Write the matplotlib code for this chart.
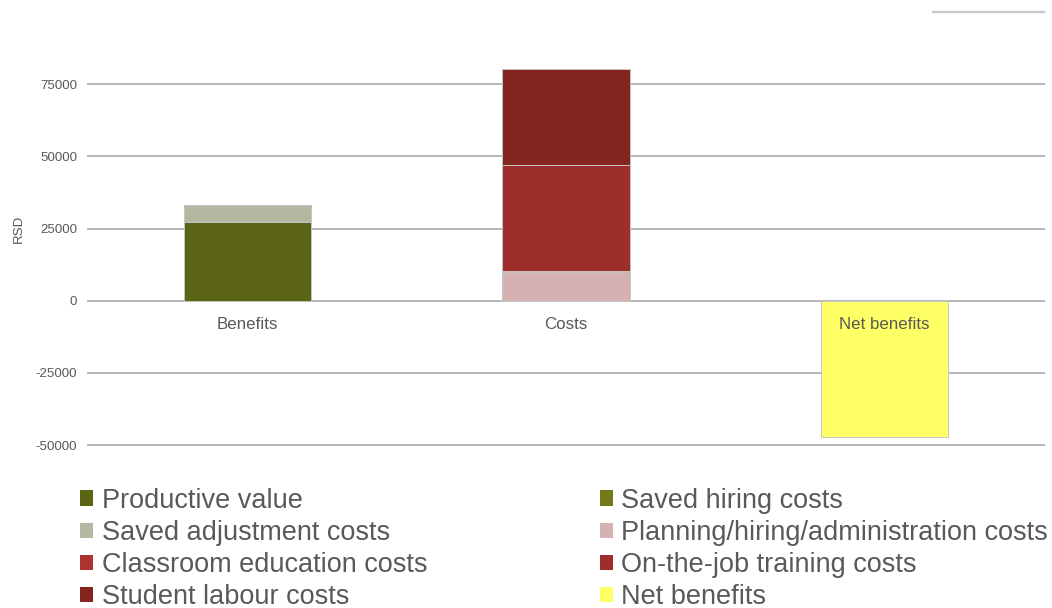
import numpy as np
import matplotlib.pyplot as plt
from matplotlib.patches import Patch

plt.rcParams['font.family'] = ['Liberation Sans', 'DejaVu Sans']

# categories on the x axis
categories = ["Benefits", "Costs", "Net benefits"]

# stacked components (RSD); zero where a component does not apply
productive_value = [27300, 0, 0]
saved_hiring = [150, 0, 0]
saved_adjustment = [5650, 0, 0]
planning_admin = [0, 9800, 0]
classroom_edu = [0, 600, 0]
on_the_job = [0, 36650, 0]
student_labour = [0, 33100, 0]
net_benefits = [0, 0, -47050]

series = [
    ("Productive value", productive_value, "#5b6314"),
    ("Saved hiring costs", saved_hiring, "#747a1b"),
    ("Saved adjustment costs", saved_adjustment, "#b5b7a1"),
    ("Planning/hiring/administration costs", planning_admin, "#d5b1b1"),
    ("Classroom education costs", classroom_edu, "#ad3333"),
    ("On-the-job training costs", on_the_job, "#9d2e2c"),
    ("Student labour costs", student_labour, "#842520"),
    ("Net benefits", net_benefits, "#ffff66"),
]

yticks = [-50000, -25000, 0, 25000, 50000, 75000]

text_col = "#595959"
grid_col = "#b7b7b7"

fig = plt.figure(figsize=(10.52, 6.08), dpi=100)
ax = fig.add_axes([0.0841, 0.268, 0.9079, 0.712])

x = np.arange(len(categories))
bottom_pos = np.zeros(len(categories))
bottom_neg = np.zeros(len(categories))
handles = {}
for name, vals, col in series:
    vals = np.array(vals, dtype=float)
    base = np.where(vals >= 0, bottom_pos, bottom_neg)
    ax.bar(x, vals, width=0.4, bottom=base, color=col,
           edgecolor="#c4c4c4", linewidth=0.7, zorder=3)
    bottom_pos = bottom_pos + np.where(vals > 0, vals, 0)
    bottom_neg = bottom_neg + np.where(vals < 0, vals, 0)
    handles[name] = Patch(facecolor=col, edgecolor="none")

ax.set_xlim(-0.5, 2.5)
ax.set_ylim(-50000, 100000)
ax.set_yticks(yticks)
ax.set_yticklabels([str(t) for t in yticks])
ax.set_xticks([])
ax.grid(axis="y", color=grid_col, linewidth=1.4, zorder=0)
for gl in ax.get_ygridlines():
    gl.set_clip_on(False)
ax.axhline(100000, xmin=0.884, xmax=1.0, color="#c8c8c8", linewidth=1.6,
           clip_on=False, zorder=0)
for s in ax.spines.values():
    s.set_visible(False)
ax.tick_params(axis="y", length=0, pad=8, labelsize=9.6, labelcolor=text_col)
ax.set_ylabel("RSD", fontsize=9.6, color=text_col, labelpad=8)

# category names sit just below the zero line
for i, c in enumerate(categories):
    ax.annotate(c, (x[i], 0), xytext=(0, -17.3), textcoords="offset points",
                ha="center", va="center", fontsize=12.2, color=text_col,
                zorder=5)

col1 = ["Productive value", "Saved adjustment costs",
        "Classroom education costs", "Student labour costs"]
col2 = ["Saved hiring costs", "Planning/hiring/administration costs",
        "On-the-job training costs", "Net benefits"]
for names, xa in [(col1, 0.076), (col2, 0.570)]:
    leg = fig.legend([handles[n] for n in names], names,
                     loc="upper left", bbox_to_anchor=(xa, 0.198),
                     frameon=False, fontsize=19.5, labelcolor=text_col,
                     handlelength=0.48, handleheight=0.48,
                     handletextpad=0.32, labelspacing=0.23,
                     borderaxespad=0, borderpad=0)

fig.savefig("out.png", dpi=100)
